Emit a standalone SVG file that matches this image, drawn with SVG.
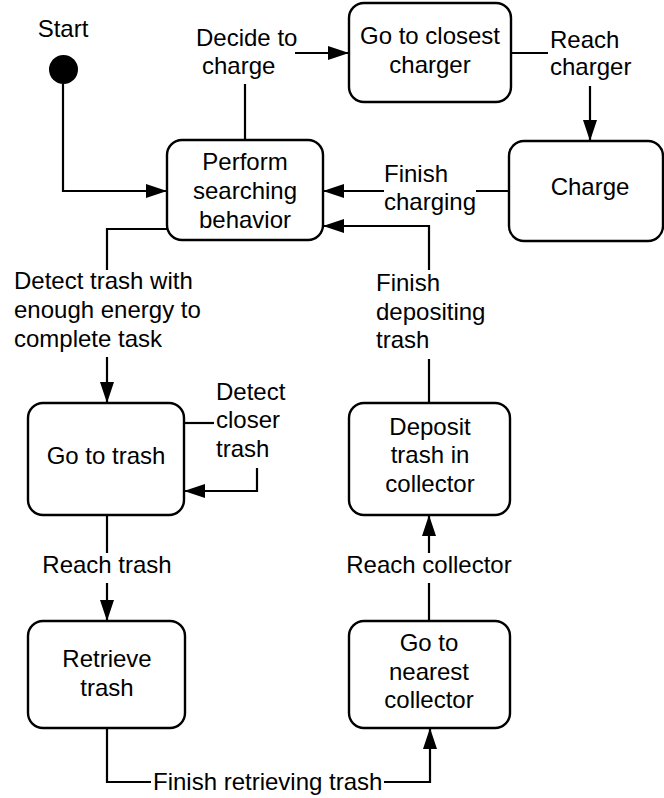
<svg xmlns="http://www.w3.org/2000/svg" width="664" height="798" viewBox="0 0 664 798">
<style>
text{font-family:"Liberation Sans",Arial,sans-serif;font-size:24px;fill:#000}
.c{text-anchor:middle}
.box{fill:#fff;stroke:#000;stroke-width:2.4}
.ln{fill:none;stroke:#000;stroke-width:2.2}
</style>
<defs>
<marker id="ah" markerUnits="userSpaceOnUse" markerWidth="22" markerHeight="16" refX="21" refY="7" orient="auto">
<path d="M0,0 L21,7 L0,14 z" fill="#000"/>
</marker>
</defs>
<rect width="664" height="798" fill="#fff"/>
<g id="connectors">
<path class="ln" d="M63,84 V191 H167" marker-end="url(#ah)"/>
<path class="ln" d="M245,140 V84"/>
<path class="ln" d="M295,53 H349" marker-end="url(#ah)"/>
<path class="ln" d="M511,53 H548"/>
<path class="ln" d="M590,86 V141" marker-end="url(#ah)"/>
<path class="ln" d="M509,191 H476"/>
<path class="ln" d="M384,191 H323" marker-end="url(#ah)"/>
<path class="ln" d="M429,403 V359"/>
<path class="ln" d="M429,270 V226 H323" marker-end="url(#ah)"/>
<path class="ln" d="M167,229 H107 V270"/>
<path class="ln" d="M107,357 V403" marker-end="url(#ah)"/>
<path class="ln" d="M184,423 H214"/>
<path class="ln" d="M257,468 V491 H184" marker-end="url(#ah)"/>
<path class="ln" d="M107,515 V553"/>
<path class="ln" d="M107,583 V621" marker-end="url(#ah)"/>
<path class="ln" d="M429,621 V583"/>
<path class="ln" d="M429,553 V515" marker-end="url(#ah)"/>
<path class="ln" d="M107,728 V782 H151"/>
<path class="ln" d="M384,782 H430 V728" marker-end="url(#ah)"/>
<text x="196" y="46">Decide to</text>
<text x="202" y="74">charge</text>
<text x="550" y="48">Reach</text>
<text x="550" y="75">charger</text>
<text x="384" y="182">Finish</text>
<text x="384" y="210">charging</text>
<text x="376" y="291">Finish</text>
<text x="376" y="320">depositing</text>
<text x="376" y="348">trash</text>
<text x="14" y="289">Detect trash with</text>
<text x="14" y="318">enough energy to</text>
<text x="14" y="347">complete task</text>
<text x="216" y="400">Detect</text>
<text x="216" y="428">closer</text>
<text x="216" y="457">trash</text>
<text class="c" x="107" y="573">Reach trash</text>
<text class="c" x="429" y="573">Reach collector</text>
<text x="153" y="790">Finish retrieving trash</text>
</g>
<g id="start">
<circle cx="63.5" cy="69.5" r="14.5" fill="#000"/>
<text class="c" x="63" y="37">Start</text>
</g>
<g id="perform">
<rect class="box" x="167" y="140" width="156" height="100" rx="15"/>
<text class="c" x="245" y="170">Perform</text>
<text class="c" x="245" y="199">searching</text>
<text class="c" x="245" y="228">behavior</text>
</g>
<g id="closest-charger">
<rect class="box" x="349" y="3" width="162" height="99" rx="15"/>
<text class="c" x="430" y="44">Go to closest</text>
<text class="c" x="430" y="73">charger</text>
</g>
<g id="charge">
<rect class="box" x="509" y="141" width="154" height="100" rx="15"/>
<text class="c" x="590" y="195">Charge</text>
</g>
<g id="go-to-trash">
<rect class="box" x="28" y="403" width="156" height="112" rx="15"/>
<text class="c" x="106" y="464">Go to trash</text>
</g>
<g id="deposit">
<rect class="box" x="349" y="403" width="161" height="112" rx="15"/>
<text class="c" x="430" y="435">Deposit</text>
<text class="c" x="430" y="463">trash in</text>
<text class="c" x="430" y="492">collector</text>
</g>
<g id="retrieve">
<rect class="box" x="28" y="621" width="157" height="107" rx="15"/>
<text class="c" x="107" y="667">Retrieve</text>
<text class="c" x="107" y="696">trash</text>
</g>
<g id="nearest-collector">
<rect class="box" x="349" y="621" width="161" height="107" rx="15"/>
<text class="c" x="429" y="651">Go to</text>
<text class="c" x="429" y="680">nearest</text>
<text class="c" x="429" y="708">collector</text>
</g>
</svg>
